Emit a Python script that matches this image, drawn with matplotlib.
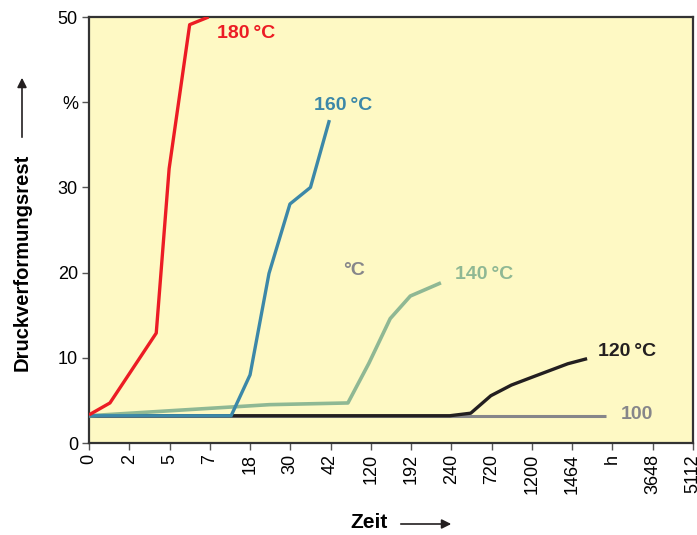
import matplotlib.pyplot as plt

plt.rcParams["font.family"] = ["Liberation Sans", "DejaVu Sans"]

# Zeitachse: kategorisch, gleichabständige Stützstellen
x_ticks = ["0", "2", "5", "7", "18", "30", "42", "120", "192", "240",
           "720", "1200", "1464", "h", "3648", "5112"]
y_ticks = [0, 10, 20, 30, 40, 50]
y_ticklabels = ["0", "10", "20", "30", "%", "50"]

# Kurven (x = Position auf der Zeitachse, y = Druckverformungsrest in %)
x_180 = [0, 0.52, 1.67, 1.99, 2.50, 2.97]
y_180 = [3.3, 4.7, 12.9, 32.2, 49.1, 50.0]

x_160 = [0, 3.53, 4.0, 4.47, 4.99, 5.5, 5.97]
y_160 = [3.2, 3.2, 8.0, 19.9, 28.05, 30.0, 37.9]

x_140 = [0, 4.48, 6.43, 6.95, 7.48, 7.98, 8.74]
y_140 = [3.2, 4.5, 4.7, 9.35, 14.6, 17.25, 18.8]

x_120 = [0, 8.96, 9.48, 9.98, 10.49, 10.99, 11.89, 12.37]
y_120 = [3.2, 3.2, 3.5, 5.55, 6.8, 7.7, 9.3, 9.9]

x_100 = [0, 12.84]
y_100 = [3.2, 3.2]

RED = "#ec1c24"
BLUE = "#3c88a8"
GREEN = "#8fb894"
BLACK = "#231f20"
GRAY = "#86868a"

fig = plt.figure(figsize=(6.97, 5.35), dpi=100)
ax = fig.add_axes([89 / 697, 1 - 443 / 535, 604 / 697, 426 / 535])
ax.set_facecolor("#fef9c4")

ax.plot(x_100, y_100, color=GRAY, lw=2.2, solid_capstyle="butt", zorder=2)
ax.plot(x_120, y_120, color=BLACK, lw=2.4, solid_capstyle="butt", zorder=3)
ax.plot(x_140, y_140, color=GREEN, lw=2.6, solid_capstyle="butt", zorder=4)
ax.plot(x_160, y_160, color=BLUE, lw=2.4, solid_capstyle="butt", zorder=5)
ax.plot(x_180, y_180, color=RED, lw=2.4, solid_capstyle="butt", zorder=6)

lab = dict(fontsize=14, fontweight="bold", va="center", ha="left")
ax.text(3.19, 48.1, "180\u2009°C", color=RED, **lab)
ax.text(5.6, 39.6, "160\u2009°C", color=BLUE, **lab)
ax.text(6.3, 20.3, "°C", color=GRAY, **lab)
ax.text(9.1, 19.8, "140\u2009°C", color=GREEN, **lab)
ax.text(12.65, 10.7, "120\u2009°C", color=BLACK, **lab)
ax.text(13.2, 3.3, "100", color=GRAY, **lab)

ax.set_xlim(0, 15)
ax.set_ylim(0, 50)
ax.set_xticks(range(len(x_ticks)))
ax.set_xticklabels(x_ticks, rotation=90, fontsize=13)
ax.set_yticks(y_ticks)
ax.set_yticklabels(y_ticklabels, fontsize=13)
ax.tick_params(direction="out", length=5, width=1, color="#555555", pad=3)
for s in ax.spines.values():
    s.set_linewidth(1.6)
    s.set_color("#333333")

# Achsenbeschriftungen mit Pfeilen
fig.text(22 / 697, 1 - 262 / 535, "Druckverformungsrest", rotation=90,
         fontsize=14.5, fontweight="bold", ha="center", va="center")
fig.add_artist(plt.matplotlib.patches.FancyArrowPatch(
    (22 / 697, 1 - 140 / 535), (22 / 697, 1 - 75 / 535),
    transform=fig.transFigure, arrowstyle="-|>", mutation_scale=14,
    lw=1.2, color="#231f20"))
fig.text(369 / 697, 1 - 523 / 535, "Zeit", fontsize=15, fontweight="bold",
         ha="center", va="center")
fig.add_artist(plt.matplotlib.patches.FancyArrowPatch(
    (398 / 697, 1 - 524 / 535), (454 / 697, 1 - 524 / 535),
    transform=fig.transFigure, arrowstyle="-|>", mutation_scale=14,
    lw=1.2, color="#231f20"))

fig.savefig("out.png", dpi=100)
